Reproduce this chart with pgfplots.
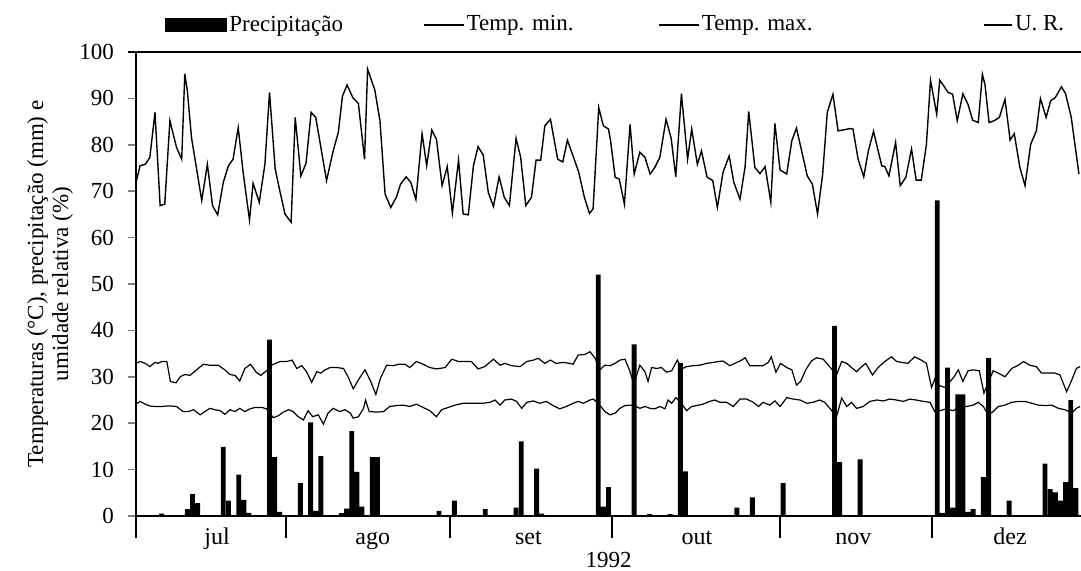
\documentclass[border=0pt]{standalone}
\usepackage{fontspec}
\setmainfont{Liberation Serif}
\usepackage{pgfplots}
\pgfplotsset{compat=1.18}
\begin{document}
\fontsize{11.5}{13}\selectfont
\begin{tikzpicture}
\path[use as bounding box] (-68pt,-27pt) rectangle (472.5pt,258pt);
\begin{axis}[
  name=ax, at={(0,0)}, anchor=south west,
  scale only axis, width=472.5pt, height=232pt,
  xmin=0, xmax=184, ymin=0, ymax=100,
  clip=false,
  axis x line*=bottom, axis y line*=left,
  axis line style={line width=1.1pt},
  ytick={0,10,...,100},
  ytick pos=left,
  tick align=outside,
  major tick length=4pt,
  ytick style={line width=0.8pt},
  xtick={15.8,46.1,76.4,109.2,139.7,170.2},
  xticklabels={jul,ago,set,out,nov,dez},
  xtick style={draw=none},
  /pgf/number format/assume math mode=true,
  tick label style={font=\fontsize{11.5}{13}\selectfont},
  yticklabel style={xshift=-3pt},
  xticklabel style={yshift=2pt, font=\fontsize{12}{13}\selectfont, text height=1.6ex, text depth=0.3ex},
  xlabel={1992},
  xlabel style={font=\fontsize{11.5}{13}\selectfont, yshift=6pt},
  ylabel={Temperaturas (°C), precipitação (mm) e\\umidade relativa (\%)},
  ylabel style={align=center, at={(axis description cs:-0.091,0.5)}, anchor=center, font=\fontsize{11.5}{12.5}\selectfont},
  legend columns=4,
  legend style={at={(axis description cs:0.0307,1.058)}, anchor=west, draw=none, fill=none, inner sep=0pt,
    nodes={inner sep=1pt}, font=\fontsize{11.5}{13}\selectfont,
    /tikz/every even column/.append style={column sep=0pt},
    /tikz/every odd column/.append style={column sep=0pt}},
]
% Precipitation (mm)
\addplot[ybar, bar width=0.95, fill=black, draw=none,
  legend image code/.code={\fill[black] (0pt,-3.5pt) rectangle (31pt,3.5pt);}]
  table[row sep=\\] {
  x y \\
  5 0.5 \\ 10 1.5 \\ 11 4.7 \\ 12 2.8 \\ 17 14.9 \\ 18 3.3 \\ 20 8.9 \\ 21 3.5 \\ 22 0.7 \\
  26 38.0 \\ 27 12.7 \\ 28 0.9 \\ 32 7.1 \\ 34 20.2 \\ 35 1.1 \\ 36 12.9 \\ 40 0.6 \\ 41 1.6 \\
  42 18.3 \\ 43 9.5 \\ 44 2.0 \\ 46 12.7 \\ 47 12.7 \\ 59 1.1 \\ 62 3.3 \\ 68 1.5 \\ 74 1.8 \\
  75 16.1 \\ 78 10.2 \\ 79 0.5 \\ 90 52.0 \\ 91 2.0 \\ 92 6.2 \\ 97 37.0 \\ 100 0.4 \\ 104 0.4 \\
  106 33.0 \\ 107 9.6 \\ 117 1.8 \\ 120 4.0 \\ 126 7.1 \\ 136 41.0 \\ 137 11.6 \\ 141 12.2 \\
  156 68.0 \\ 157 0.7 \\ 158 32.0 \\ 159 1.8 \\ 160 26.2 \\ 161 26.2 \\ 162 0.9 \\ 163 1.5 \\
  165 8.4 \\ 166 34.0 \\ 170 3.3 \\ 177 11.3 \\ 178 5.8 \\ 179 5.1 \\ 180 3.3 \\ 181 7.3 \\
  182 25.0 \\ 183 6.0 \\
};
\addlegendentry{\makebox[96pt][l]{Precipitação}}
% Temp min
\addplot[black, line width=0.6pt, mark=none,
  legend image code/.code={\draw[line width=0.6pt] (0pt,0pt) -- (20pt,0pt);}]
  table[row sep=\\] {
  x y \\
  0.0 24.1 \\ 0.8 24.7 \\ 1.8 24.1 \\ 2.7 23.7 \\ 3.7 23.6 \\ 5.0 23.6 \\ 6.0 23.7 \\ 6.9 23.7 \\
  7.9 23.6 \\ 9.2 22.5 \\ 10.2 22.5 \\ 11.2 22.9 \\ 12.5 21.8 \\ 13.4 22.5 \\ 14.4 23.2 \\
  15.4 22.9 \\ 16.4 22.7 \\ 17.3 21.9 \\ 18.3 22.9 \\ 19.3 22.5 \\ 20.2 23.2 \\ 21.2 22.5 \\
  22.2 23.1 \\ 23.2 23.4 \\ 24.5 23.4 \\ 25.4 23.1 \\ 26.7 21.2 \\ 27.7 21.6 \\ 28.7 22.4 \\
  29.7 22.9 \\ 30.6 22.5 \\ 31.6 21.4 \\ 32.6 20.7 \\ 33.5 22.7 \\ 34.4 21.4 \\ 35.5 21.8 \\
  36.5 19.8 \\ 37.4 22.2 \\ 38.4 23.2 \\ 39.7 22.5 \\ 40.7 22.9 \\ 41.7 22.2 \\ 42.3 21.1 \\
  43.3 21.4 \\ 44.3 23.2 \\ 44.7 25.0 \\ 45.4 22.5 \\ 46.9 22.4 \\ 48.2 22.5 \\ 49.4 23.6 \\
  50.7 23.8 \\ 52.0 23.9 \\ 53.3 23.6 \\ 54.6 24.1 \\ 55.9 23.4 \\ 57.2 22.7 \\ 58.5 21.4 \\
  59.5 22.9 \\ 60.8 23.4 \\ 62.1 23.9 \\ 63.7 24.3 \\ 65.0 24.3 \\ 66.3 24.3 \\ 67.6 24.3 \\
  68.9 24.5 \\ 69.9 25.0 \\ 70.9 23.9 \\ 71.8 25.0 \\ 73.1 25.2 \\ 74.1 24.7 \\ 75.1 23.2 \\
  76.1 24.5 \\ 77.4 24.8 \\ 78.6 24.3 \\ 79.9 24.7 \\ 81.2 23.8 \\ 82.5 23.1 \\ 83.8 23.6 \\
  85.1 24.3 \\ 86.1 24.7 \\ 87.1 24.3 \\ 88.4 25.0 \\ 89.0 25.2 \\ 90.0 24.3 \\
  91.3 22.5 \\ 92.3 21.8 \\ 93.3 22.2 \\ 94.2 23.2 \\ 95.2 23.8 \\ 96.2 23.9 \\ 97.1 23.8 \\
  98.1 23.2 \\ 99.1 23.6 \\ 100.1 23.2 \\ 101.0 23.1 \\ 102.0 23.6 \\ 103.0 23.1 \\ 103.6 25.0 \\
  104.3 24.3 \\ 105.1 25.5 \\ 105.9 24.7 \\ 107.2 22.7 \\ 108.2 23.6 \\ 109.1 23.8 \\
  110.4 24.1 \\ 111.7 24.7 \\ 112.7 25.0 \\ 113.7 24.5 \\ 115.0 24.5 \\ 116.3 23.6 \\
  117.6 25.2 \\ 118.9 25.2 \\ 120.2 24.5 \\ 121.2 23.6 \\ 122.1 24.5 \\ 123.4 23.9 \\
  124.4 24.8 \\ 125.4 23.6 \\ 126.7 25.5 \\ 128.0 25.2 \\ 129.3 25.0 \\ 130.6 24.3 \\
  131.8 24.5 \\ 133.1 25.0 \\ 134.1 24.5 \\ 135.1 23.2 \\ 136.4 21.4 \\ 137.4 25.4 \\
  138.4 23.6 \\ 139.3 24.5 \\ 140.3 23.2 \\ 141.6 23.6 \\ 142.9 24.7 \\ 144.2 25.0 \\
  145.5 24.8 \\ 146.8 25.2 \\ 148.1 25.0 \\ 149.4 24.7 \\ 150.7 25.2 \\ 151.9 25.0 \\
  153.3 24.7 \\ 154.6 24.5 \\ 155.5 22.5 \\ 156.5 22.7 \\ 157.8 23.1 \\ 159.1 22.7 \\
  160.4 23.6 \\ 161.7 23.6 \\ 163.0 23.9 \\ 164.0 24.5 \\ 165.0 23.6 \\ 165.9 21.8 \\
  166.9 22.5 \\ 167.9 23.6 \\ 169.2 23.9 \\ 170.5 24.5 \\ 171.8 24.7 \\ 173.1 24.7 \\
  174.4 24.3 \\ 175.7 23.9 \\ 177.0 23.8 \\ 178.3 23.9 \\ 179.6 23.2 \\ 180.9 22.9 \\
  182.2 22.2 \\ 183.1 23.2 \\ 183.8 23.6 \\
};
\addlegendentry{\makebox[95pt][l]{Temp. min.}}
% Temp max
\addplot[black, line width=0.6pt, mark=none,
  legend image code/.code={\draw[line width=0.6pt] (0pt,0pt) -- (20pt,0pt);}]
  table[row sep=\\] {
  x y \\
  0.0 32.9 \\ 0.8 33.3 \\ 1.8 32.9 \\ 2.7 32.2 \\ 3.7 33.1 \\ 4.3 32.9 \\ 5.0 33.3 \\ 6.0 33.3 \\
  6.7 29.0 \\ 7.8 28.7 \\ 8.6 30.0 \\ 9.5 30.5 \\ 10.5 30.3 \\ 11.8 31.5 \\ 13.1 32.7 \\
  14.4 32.5 \\ 16.0 32.5 \\ 17.3 31.5 \\ 18.3 30.5 \\ 19.3 30.3 \\ 20.2 29.1 \\ 21.2 31.8 \\
  22.3 32.7 \\ 23.4 31.0 \\ 24.3 30.3 \\ 25.4 31.3 \\ 26.4 32.5 \\ 28.0 33.3 \\ 29.3 33.3 \\
  30.4 33.6 \\ 31.3 31.8 \\ 32.3 32.4 \\ 33.2 31.1 \\ 34.2 28.8 \\ 35.2 31.1 \\ 36.0 30.8 \\
  36.8 31.5 \\ 37.8 32.0 \\ 39.1 32.0 \\ 40.4 31.8 \\ 41.3 30.0 \\ 42.3 27.4 \\ 43.5 29.7 \\
  44.6 31.5 \\ 45.7 29.0 \\ 46.7 26.2 \\ 47.6 29.7 \\ 48.8 32.5 \\ 50.1 32.4 \\ 51.1 32.7 \\
  52.4 32.7 \\ 53.3 32.0 \\ 54.6 33.3 \\ 55.9 32.7 \\ 57.2 32.0 \\ 58.5 31.7 \\ 60.2 32.0 \\
  61.5 33.8 \\ 62.8 33.3 \\ 64.0 33.3 \\ 65.3 33.3 \\ 66.6 31.7 \\ 67.9 32.2 \\ 69.6 33.8 \\
  70.9 32.5 \\ 71.8 32.9 \\ 73.1 32.4 \\ 74.8 32.2 \\ 76.1 33.3 \\ 77.4 33.6 \\ 78.3 34.0 \\
  79.6 32.9 \\ 80.7 33.6 \\ 81.8 32.9 \\ 83.2 33.1 \\ 84.4 32.9 \\ 85.1 32.7 \\ 86.1 34.7 \\
  87.4 34.8 \\ 88.4 35.4 \\ 89.4 34.0 \\ 90.3 31.5 \\ 91.3 32.5 \\ 92.3 32.4 \\ 93.3 32.9 \\
  94.2 33.6 \\ 95.2 33.8 \\ 96.0 31.7 \\ 96.7 29.3 \\ 97.3 29.7 \\ 98.1 32.5 \\ 99.1 31.1 \\
  99.7 29.0 \\ 100.4 32.0 \\ 101.4 31.8 \\ 102.3 32.0 \\ 103.3 31.0 \\ 104.3 31.3 \\
  105.4 33.6 \\ 106.2 31.7 \\ 107.2 32.2 \\ 108.5 32.4 \\ 109.8 32.5 \\ 111.1 32.9 \\
  112.4 33.1 \\ 113.4 33.3 \\ 114.3 33.4 \\ 115.6 32.4 \\ 116.6 32.9 \\ 117.6 33.4 \\
  118.6 34.1 \\ 119.5 32.4 \\ 120.8 32.4 \\ 122.1 32.4 \\ 123.1 33.1 \\ 123.7 34.3 \\
  124.6 31.0 \\ 125.5 32.9 \\ 126.7 32.0 \\ 127.7 31.5 \\ 128.6 28.2 \\ 129.4 29.0 \\
  130.4 31.5 \\ 131.5 33.4 \\ 132.5 34.1 \\ 133.8 33.8 \\ 135.2 32.0 \\ 136.4 30.4 \\
  137.4 33.3 \\ 138.4 32.9 \\ 139.3 32.0 \\ 140.3 31.1 \\ 141.3 32.2 \\ 142.1 32.9 \\
  143.4 30.4 \\ 144.5 32.0 \\ 145.8 33.3 \\ 147.1 34.3 \\ 148.1 33.3 \\ 149.1 33.1 \\
  150.3 32.9 \\ 151.6 34.3 \\ 152.9 33.6 \\ 153.9 32.9 \\ 154.9 27.7 \\ 155.6 29.7 \\
  156.4 28.1 \\ 157.5 27.7 \\ 158.5 29.0 \\ 159.3 30.0 \\ 160.1 31.5 \\ 161.0 29.0 \\
  162.0 31.3 \\ 163.0 31.5 \\ 164.2 31.3 \\ 165.1 26.5 \\ 166.9 31.3 \\ 167.9 30.8 \\
  169.2 30.0 \\ 170.5 31.8 \\ 171.8 32.5 \\ 172.8 33.3 \\ 174.0 32.5 \\ 175.3 32.2 \\
  176.3 30.8 \\ 177.6 30.8 \\ 178.9 30.8 \\ 179.9 30.4 \\ 181.2 26.8 \\ 182.2 29.3 \\
  183.1 31.8 \\ 183.8 32.2 \\
};
\addlegendentry{\makebox[140pt][l]{Temp. max.}}
% Relative humidity (%)
\addplot[black, line width=0.7pt, mark=none,
  legend image code/.code={\draw[line width=0.6pt] (0pt,0pt) -- (14pt,0pt);}]
  table[row sep=\\] {
  x y \\
  0.0 71.9 \\ 0.8 75.5 \\ 1.8 75.8 \\ 2.7 77.3 \\ 3.7 87.0 \\ 4.7 66.9 \\ 5.6 67.2 \\ 6.6 85.2 \\
  7.9 79.4 \\ 8.9 76.9 \\ 9.5 95.3 \\ 10.0 91.6 \\ 10.8 81.6 \\ 12.8 68.0 \\ 13.9 75.8 \\
  14.9 66.9 \\ 15.9 64.9 \\ 17.0 71.9 \\ 18.0 75.5 \\ 18.9 76.9 \\ 19.9 83.7 \\ 20.9 73.7 \\
  22.1 63.8 \\ 22.8 71.7 \\ 24.0 67.6 \\ 25.1 75.8 \\ 26.0 91.3 \\ 27.1 74.8 \\ 28.0 70.1 \\
  29.0 65.1 \\ 30.2 63.3 \\ 31.0 85.9 \\ 32.1 73.3 \\ 33.1 76.0 \\ 34.1 87.0 \\ 35.0 85.9 \\
  37.1 72.3 \\ 38.4 78.7 \\ 39.4 82.7 \\ 40.2 90.5 \\ 41.1 92.9 \\ 42.2 90.2 \\ 43.3 88.9 \\
  44.5 76.9 \\ 45.1 96.3 \\ 46.5 91.8 \\ 47.5 85.2 \\ 48.5 69.4 \\ 49.6 66.5 \\ 50.7 68.7 \\
  51.5 71.5 \\ 52.6 73.1 \\ 53.5 71.9 \\ 54.5 68.2 \\ 55.7 82.4 \\ 56.6 75.5 \\ 57.6 83.2 \\
  58.5 81.2 \\ 59.6 71.2 \\ 60.6 75.3 \\ 61.6 65.3 \\ 62.8 76.7 \\ 63.7 65.1 \\ 64.7 64.9 \\
  65.7 75.5 \\ 66.6 79.6 \\ 67.6 77.8 \\ 68.6 69.7 \\ 69.6 66.7 \\ 70.7 73.1 \\ 71.7 68.7 \\
  72.7 66.9 \\ 74.0 81.4 \\ 74.9 77.3 \\ 75.9 66.9 \\ 77.0 68.7 \\ 77.9 76.7 \\ 78.8 76.7 \\
  79.6 84.1 \\ 80.7 85.5 \\ 82.1 76.9 \\ 83.1 76.3 \\ 84.0 81.0 \\ 85.1 77.6 \\ 86.2 74.1 \\
  87.3 68.7 \\ 88.3 65.2 \\ 89.0 66.2 \\ 90.1 88.0 \\ 91.0 84.1 \\ 92.0 83.4 \\ 92.4 80.9 \\
  93.3 73.0 \\ 94.1 72.6 \\ 95.1 67.2 \\ 96.2 84.4 \\ 97.0 73.7 \\ 98.1 78.4 \\ 99.1 77.3 \\
  100.1 73.7 \\ 101.0 75.1 \\ 102.0 77.3 \\ 103.2 85.5 \\ 104.2 81.4 \\ 105.1 73.1 \\
  106.2 91.0 \\ 107.4 76.9 \\ 108.2 83.4 \\ 109.3 75.8 \\ 110.1 78.7 \\ 111.2 73.0 \\
  112.3 72.3 \\ 113.2 66.5 \\ 114.3 74.1 \\ 115.5 77.6 \\ 116.4 71.9 \\ 117.6 68.3 \\
  118.6 75.3 \\ 119.3 87.2 \\ 120.5 75.1 \\ 121.5 73.8 \\ 122.5 75.3 \\ 123.6 67.6 \\
  124.4 84.6 \\ 125.4 74.6 \\ 126.7 73.7 \\ 127.7 80.9 \\ 128.6 83.6 \\ 129.6 78.7 \\
  130.7 73.3 \\ 131.7 71.5 \\ 132.7 65.1 \\ 133.7 73.7 \\ 134.6 87.0 \\ 135.7 90.9 \\
  136.7 83.0 \\ 137.7 83.2 \\ 139.0 83.5 \\ 139.6 83.4 \\ 140.6 76.9 \\ 141.7 73.1 \\
  142.6 78.7 \\ 143.6 82.9 \\ 144.5 78.7 \\ 145.2 75.5 \\ 145.8 75.3 \\ 146.6 73.3 \\
  147.9 80.5 \\ 148.8 71.2 \\ 149.9 73.0 \\ 151.0 79.1 \\ 151.9 72.4 \\ 152.9 72.4 \\
  153.9 80.1 \\ 154.7 93.9 \\ 155.9 86.6 \\ 156.5 93.9 \\ 157.4 92.5 \\ 158.1 91.3 \\
  159.0 90.9 \\ 159.9 85.2 \\ 161.0 91.0 \\ 162.0 88.7 \\ 162.9 85.3 \\ 164.0 84.8 \\
  164.8 95.2 \\ 165.3 93.0 \\ 166.1 84.8 \\ 167.1 85.2 \\ 168.1 85.9 \\ 169.2 89.8 \\
  170.2 81.0 \\ 171.0 82.4 \\ 172.1 75.1 \\ 173.1 71.2 \\ 174.2 80.1 \\ 175.3 83.0 \\
  176.1 90.0 \\ 177.2 85.9 \\ 178.1 89.5 \\ 179.0 90.2 \\ 180.2 92.5 \\ 181.0 91.0 \\
  182.1 85.9 \\ 183.6 73.7 \\
};
\addlegendentry{U. R.}
% month separators below the x axis
\draw[line width=0.9pt] (axis cs:0,0) -- ++(0,-11pt);
\draw[line width=0.9pt] (axis cs:29.2,0) -- ++(0,-11pt);
\draw[line width=0.9pt] (axis cs:61.1,0) -- ++(0,-11pt);
\draw[line width=0.9pt] (axis cs:92.7,0) -- ++(0,-11pt);
\draw[line width=0.9pt] (axis cs:125.4,0) -- ++(0,-11pt);
\draw[line width=0.9pt] (axis cs:155.0,0) -- ++(0,-11pt);
\end{axis}
\draw[line width=1.1pt] ([xshift=-4pt]ax.north west) -- (ax.north east);
\end{tikzpicture}
\end{document}
